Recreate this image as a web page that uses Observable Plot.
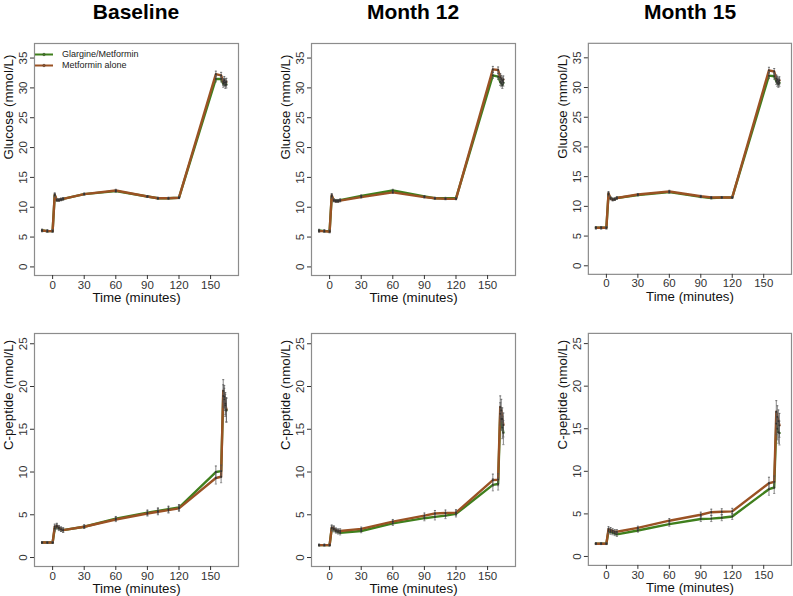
<!DOCTYPE html>
<html>
<head>
<meta charset="utf-8">
<script src="https://cdn.jsdelivr.net/npm/d3@7"></script>
<script src="https://cdn.jsdelivr.net/npm/@observablehq/plot@0.6"></script>
<style>
  html, body { margin: 0; padding: 0; background: #fff; overflow: hidden; }
  #root { position: relative; width: 793px; height: 596px; font-family: "Liberation Sans", Arial, sans-serif; }
  .title { position: absolute; top: 1px; width: 204px; text-align: center; font-weight: bold; font-size: 21px; line-height: 22px; color: #000; }
  .cell { position: absolute; }
  .leg { position: absolute; left: 35px; height: 11px; line-height: 11px; font-size: 9px; color: #222; white-space: nowrap; }
  .leg svg { position: absolute; left: 0; top: 2px; }
  .leg span { position: absolute; left: 27px; top: 0; }
</style>
</head>
<body>
<div id="root"></div>
<script>
// ---------- data ----------
const times = [-10, -5, 0, 2, 4, 6, 8, 10, 30, 60, 90, 100, 110, 120, 155, 160, 162, 163, 164, 165];
const groups = ["Glargine/Metformin", "Metformin alone"];
const groupColors = ["#3f7f1d", "#9a5224"];
const visits = ["Baseline", "Month 12", "Month 15"];
const xTicks = [0, 30, 60, 90, 120, 150];
const glucoseTicks = [0, 5, 10, 15, 20, 25, 30, 35];
const cpeptideTicks = [0, 5, 10, 15, 20, 25];

// Glucose (mmol/L)
const glucoseGlargineBaseline = [6.1, 6.0, 6.0, 12.0, 11.2, 11.2, 11.3, 11.4, 12.2, 12.7, 11.8, 11.5, 11.5, 11.6, 31.5, 31.5, 30.7, 30.9, 30.5, 30.6];
const glucoseMetforminBaseline = [6.1, 6.0, 6.0, 12.1, 11.2, 11.2, 11.3, 11.4, 12.2, 12.8, 11.8, 11.5, 11.5, 11.6, 32.3, 32.1, 31.0, 31.3, 30.9, 31.0];
const glucoseGlargineM12 = [6.1, 6.0, 6.0, 11.8, 11.2, 11.1, 11.1, 11.2, 11.9, 12.8, 11.8, 11.5, 11.5, 11.5, 32.1, 31.9, 31.0, 30.8, 30.5, 30.9];
const glucoseMetforminM12 = [6.0, 6.0, 5.9, 12.0, 11.1, 11.0, 11.0, 11.1, 11.7, 12.5, 11.7, 11.5, 11.4, 11.4, 33.1, 33.0, 31.8, 31.5, 31.2, 31.4];
const glucoseGlargineM15 = [6.4, 6.4, 6.4, 12.0, 11.4, 11.2, 11.2, 11.4, 11.9, 12.4, 11.6, 11.4, 11.5, 11.5, 32.0, 31.9, 31.1, 30.8, 30.6, 30.8];
const glucoseMetforminM15 = [6.4, 6.4, 6.4, 12.2, 11.3, 11.1, 11.2, 11.4, 12.0, 12.5, 11.7, 11.5, 11.5, 11.5, 32.9, 32.7, 31.5, 31.3, 31.0, 31.2];
const glucoseSE = [0.2, 0.2, 0.2, 0.3, 0.2, 0.2, 0.2, 0.2, 0.15, 0.2, 0.15, 0.15, 0.15, 0.15, 0.5, 0.5, 0.6, 0.6, 0.6, 0.6];

// C-peptide (nmol/L)
const cpepGlargineBaseline = [1.75, 1.75, 1.75, 3.4, 3.6, 3.4, 3.3, 3.2, 3.6, 4.55, 5.25, 5.45, 5.65, 5.85, 10.0, 10.1, 18.9, 18.5, 17.8, 17.2];
const cpepMetforminBaseline = [1.75, 1.75, 1.75, 3.6, 3.7, 3.5, 3.3, 3.2, 3.6, 4.45, 5.15, 5.35, 5.55, 5.75, 9.3, 9.45, 19.5, 18.8, 18.0, 17.3];
const cpepGlargineM12 = [1.45, 1.45, 1.45, 3.4, 3.3, 3.1, 3.0, 2.9, 3.1, 4.0, 4.6, 4.75, 4.9, 5.1, 8.5, 8.6, 16.8, 16.2, 15.2, 14.6];
const cpepMetforminM12 = [1.45, 1.45, 1.45, 3.5, 3.4, 3.2, 3.1, 3.1, 3.35, 4.2, 4.9, 5.15, 5.2, 5.25, 9.05, 9.1, 17.6, 17.2, 16.2, 15.5];
const cpepGlargineM15 = [1.5, 1.5, 1.5, 3.0, 2.9, 2.8, 2.7, 2.6, 3.05, 3.8, 4.4, 4.45, 4.55, 4.7, 7.9, 8.1, 15.6, 15.0, 14.6, 14.5];
const cpepMetforminM15 = [1.5, 1.5, 1.5, 3.2, 3.1, 3.0, 2.9, 2.9, 3.35, 4.2, 4.9, 5.2, 5.25, 5.3, 8.6, 8.75, 17.0, 16.4, 15.9, 15.4];
const cpepSE = [0.1, 0.1, 0.1, 0.3, 0.3, 0.25, 0.25, 0.25, 0.2, 0.25, 0.3, 0.35, 0.35, 0.35, 0.7, 0.7, 1.3, 1.3, 1.3, 1.4];

// ---------- layout ----------
const FONT = '"Liberation Sans", Arial, sans-serif';
const root = document.getElementById("root");
const colLeft = [0, 277, 554];
const xDomain = [-17.2, 176.5];

function panel({g, m, se, yDomain, yTicks, yLabel, height, marginTop, marginBottom}) {
  const rows = [];
  [g, m].forEach((vals, gi) => vals.forEach((v, i) => rows.push({
    group: groups[gi], t: times[i], v, lo: v - se[i], hi: v + se[i]
  })));
  return Plot.plot({
    width: 240, height,
    marginLeft: 34, marginRight: 2, marginTop, marginBottom,
    style: {fontFamily: FONT, fontSize: "11.5px", color: "#333", background: "transparent", overflow: "visible"},
    x: {domain: xDomain},
    y: {domain: yDomain},
    color: {domain: groups, range: groupColors},
    marks: [
      Plot.frame({stroke: "#8c8c8c", strokeWidth: 1.2}),
      Plot.axisX({ticks: xTicks, tickSize: 4, tickPadding: 1, label: null, fontSize: 11.5}),
      Plot.axisY({ticks: yTicks, tickSize: 4, tickFormat: () => "", label: null}),
      Plot.text(yTicks, {y: d => d, text: d => String(d), frameAnchor: "left", dx: -11, rotate: -90,
        lineAnchor: "middle", textAnchor: "middle", fontSize: 11.5, fill: "#333"}),
      Plot.text(["Time (minutes)"], {text: d => d, frameAnchor: "bottom", dy: 22, lineAnchor: "middle", fontSize: 13.3, fill: "#111"}),
      Plot.text([yLabel], {text: d => d, frameAnchor: "left", dx: -26, rotate: -90, lineAnchor: "middle", fontSize: 13.3, fill: "#111"}),
      Plot.line(rows, {x: "t", y: "v", z: "group", stroke: "group", strokeWidth: 2.4}),
      Plot.ruleX(rows, {x: "t", y1: "lo", y2: "hi", stroke: "#555", strokeWidth: 0.7}),
      Plot.link(rows, {x1: d => d.t - 1.0, x2: d => d.t + 1.0, y1: "hi", y2: "hi", stroke: "#555", strokeWidth: 0.7}),
      Plot.link(rows, {x1: d => d.t - 1.0, x2: d => d.t + 1.0, y1: "lo", y2: "lo", stroke: "#555", strokeWidth: 0.7}),
      Plot.dot(rows, {x: "t", y: "v", r: 0.9, fill: "#333"})
    ]
  });
}

const glucoseData = [
  [glucoseGlargineBaseline, glucoseMetforminBaseline],
  [glucoseGlargineM12, glucoseMetforminM12],
  [glucoseGlargineM15, glucoseMetforminM15]
];
const cpepData = [
  [cpepGlargineBaseline, cpepMetforminBaseline],
  [cpepGlargineM12, cpepMetforminM12],
  [cpepGlargineM15, cpepMetforminM15]
];

visits.forEach((visit, c) => {
  const t = document.createElement("div");
  t.className = "title";
  t.style.left = (colLeft[c] + 34) + "px";
  t.textContent = visit;
  root.appendChild(t);

  const top = document.createElement("div");
  top.className = "cell";
  top.style.left = colLeft[c] + "px";
  top.style.top = "0px";
  top.appendChild(panel({
    g: glucoseData[c][0], m: glucoseData[c][1], se: glucoseSE,
    yDomain: [-1.44, 37.44], yTicks: glucoseTicks, yLabel: "Glucose (mmol/L)",
    height: 305, marginTop: 43, marginBottom: 30
  }));
  root.appendChild(top);

  const bot = document.createElement("div");
  bot.className = "cell";
  bot.style.left = colLeft[c] + "px";
  bot.style.top = "305px";
  bot.appendChild(panel({
    g: cpepData[c][0], m: cpepData[c][1], se: cpepSE,
    yDomain: [-1.05, 26.2], yTicks: cpeptideTicks, yLabel: "C-peptide (nmol/L)",
    height: 291, marginTop: 28, marginBottom: 30
  }));
  root.appendChild(bot);
});

// legend (top-left panel)
const legendTops = [49, 59.5];
groups.forEach((g, i) => {
  const row = document.createElement("div");
  row.className = "leg";
  row.style.top = legendTops[i] + "px";
  row.innerHTML = `<svg width="20" height="7"><line x1="0" y1="3.5" x2="18" y2="3.5" stroke="${groupColors[i]}" stroke-width="2"/><circle cx="9" cy="3.5" r="1.3" fill="${groupColors[i]}" stroke="#333" stroke-width="0.4"/></svg><span></span>`;
  row.querySelector("span").textContent = g;
  root.appendChild(row);
});
</script>
</body>
</html>
